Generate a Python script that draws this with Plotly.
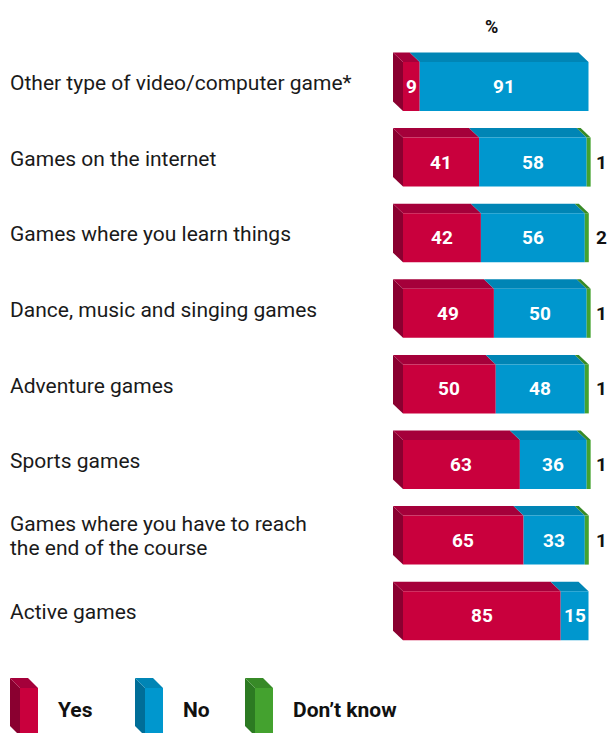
import plotly.graph_objects as go

categories = [
    "Other type of video/computer game*",
    "Games on the internet",
    "Games where you learn things",
    "Dance, music and singing games",
    "Adventure games",
    "Sports games",
    "Games where you have to reach<br>the end of the course",
    "Active games",
]
yes = [9, 41, 42, 49, 50, 63, 65, 85]
no = [91, 58, 56, 50, 48, 36, 33, 15]
dont_know = [0, 1, 2, 1, 1, 1, 1, 0]
series_names = ["Yes", "No", "Don\u2019t know"]

W, H = 611, 733
X0PX, SC = 403.0, 1.855         # px of 0 %, px per %
Y0PX, STEP = 86.5, 75.6          # px of first bar centre, px per category
HALF = 24.5 / STEP               # half bar height in y units
DX = -10.0 / SC                  # depth offset (x units)
DY = -9.5 / STEP                 # depth offset (y units, reversed axis)
MINW = 4.0 / SC                  # minimum drawn width of a thin segment

front = ["#C9003D", "#0097CE", "#44A22F"]
top = ["#A5003A", "#0085B5", "#378A27"]
side = ["#8A0030", "#006E98", "#2C7A22"]

FONT = "Roboto"
fig = go.Figure()
shapes = []
annotations = []

def poly(pts, color, xref="x", yref="y"):
    path = "M " + " L ".join(f"{x},{y}" for x, y in pts) + " Z"
    return dict(type="path", path=path, xref=xref, yref=yref,
                fillcolor=color, line=dict(width=0), layer="above")

series = [yes, no, dont_know]
for i, cat in enumerate(categories):
    yt, yb = i - HALF, i + HALF
    shapes.append(poly([(0, yt), (0, yb), (DX, yb + DY), (DX, yt + DY)], side[0]))
    start = 0
    for s, vals in enumerate(series):
        v = vals[i]
        if v <= 0:
            continue
        x0 = start
        x1 = start + (max(v, MINW) if s == 2 else v)
        shapes.append(poly([(x0, yt), (x1, yt), (x1 + DX, yt + DY), (x0 + DX, yt + DY)], top[s]))
        shapes.append(poly([(x0, yt), (x1, yt), (x1, yb), (x0, yb)], front[s]))
        if s < 2:
            annotations.append(dict(x=(x0 + x1) / 2, y=i, text=str(v), showarrow=False,
                                    font=dict(family=FONT, size=19, color="white", weight="bold"),
                                    xanchor="center", yanchor="middle"))
        else:
            annotations.append(dict(x=(601 - X0PX) / SC, y=i, text=str(v), showarrow=False,
                                    font=dict(family=FONT, size=19, color="#111111", weight="bold"),
                                    xanchor="center", yanchor="middle"))
        start = x1
    lines = cat.split("<br>")
    if len(lines) == 1:
        annotations.append(dict(x=(8 - X0PX) / SC, y=i - 0.045, text=cat, showarrow=False,
                                xanchor="left", yanchor="middle",
                                font=dict(family=FONT, size=21, color="#1a1a1a")))
    else:
        for k, ln in enumerate(lines):
            annotations.append(dict(x=(8 - X0PX) / SC, y=i + (-16 + 24 * k) / STEP, text=ln,
                                    showarrow=False, xanchor="left", yanchor="middle",
                                    font=dict(family=FONT, size=21, color="#1a1a1a")))

annotations.append(dict(x=(491 - X0PX) / SC, y=(26 - Y0PX) / STEP, text="%", showarrow=False,
                        font=dict(family=FONT, size=18, color="#111111", weight="bold")))

# legend (3D boxes at the bottom)
leg_px = [(20, 56), (145, 181), (255, 291)]
for s, (fx, tx) in enumerate(leg_px):
    px = lambda x: x / W
    py = lambda y: 1 - y / H
    ft, fb, fw, d = 688, 736, 18, 10
    shapes.append(poly([(px(fx), py(ft)), (px(fx), py(fb)), (px(fx - d), py(fb - d)), (px(fx - d), py(ft - d))],
                       side[s], "paper", "paper"))
    shapes.append(poly([(px(fx), py(ft)), (px(fx + fw), py(ft)), (px(fx + fw - d), py(ft - d)), (px(fx - d), py(ft - d))],
                       top[s], "paper", "paper"))
    shapes.append(poly([(px(fx), py(ft)), (px(fx + fw), py(ft)), (px(fx + fw), py(fb)), (px(fx), py(fb))],
                       front[s], "paper", "paper"))
    annotations.append(dict(x=px(tx), y=py(710), xref="paper", yref="paper", text=series_names[s],
                            showarrow=False, xanchor="left", yanchor="middle",
                            font=dict(family=FONT, size=21, color="#111111", weight="bold")))

fig.add_trace(go.Scatter(x=[0, 100], y=[0, len(categories) - 1], mode="markers",
                         marker=dict(opacity=0), hoverinfo="skip", showlegend=False))

fig.update_layout(
    width=W, height=H, margin=dict(l=0, r=0, t=0, b=0, pad=0),
    paper_bgcolor="white", plot_bgcolor="white", showlegend=False,
    shapes=shapes, annotations=annotations,
    xaxis=dict(range=[-X0PX / SC, (W - X0PX) / SC], visible=False, fixedrange=True),
    yaxis=dict(range=[(H - Y0PX) / STEP, -Y0PX / STEP], visible=False, fixedrange=True),
)
fig.write_html("out.html")
